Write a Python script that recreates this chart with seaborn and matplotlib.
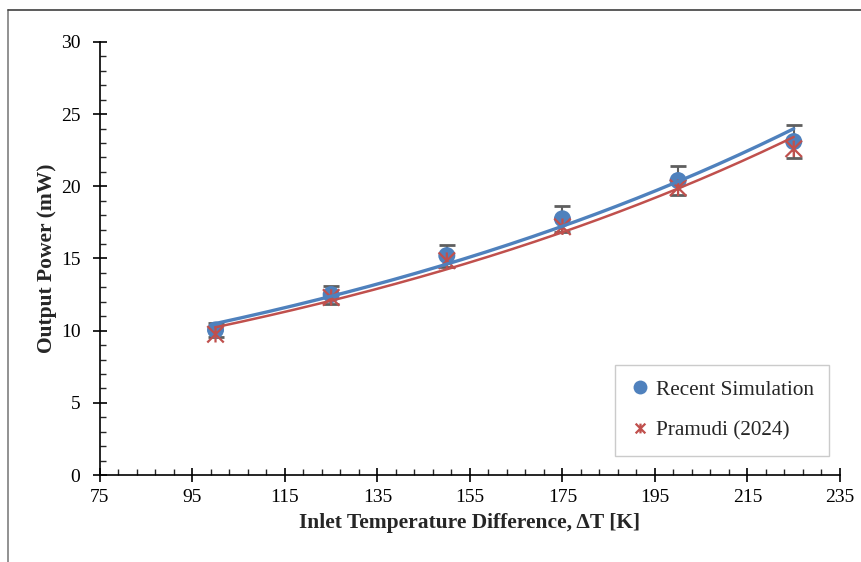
import numpy as np
import pandas as pd
import matplotlib
matplotlib.use("Agg")
import matplotlib.pyplot as plt
import seaborn as sns
from matplotlib.path import Path
from matplotlib.lines import Line2D

# data
delta_t = [100, 125, 150, 175, 200, 225]
recent_sim = [10.05, 12.5, 15.2, 17.75, 20.4, 23.1]
pramudi = [9.75, 12.3, 14.85, 17.2, 19.9, 22.6]
err_pct = 0.05

x_ticks = [75, 95, 115, 135, 155, 175, 195, 215, 235]
y_ticks = [0, 5, 10, 15, 20, 25, 30]

blue = "#4F81BD"
red = "#C0504D"
grey = "#5f5f5f"

sns.set_style("ticks")
plt.rcParams["font.family"] = ["Liberation Serif", "DejaVu Serif"]

df = pd.DataFrame({"dt": delta_t, "recent": recent_sim, "pramudi": pramudi})

# excel style exponential trendlines
xs = np.linspace(min(delta_t), max(delta_t), 200)
b1, a1 = np.polyfit(df["dt"], np.log(df["recent"]), 1)
b2, a2 = np.polyfit(df["dt"], np.log(df["pramudi"]), 1)
trend = pd.DataFrame({"x": xs, "recent": np.exp(a1 + b1 * xs), "pramudi": np.exp(a2 + b2 * xs)})

# star marker: x with a vertical stroke
star = Path([(-1, -1), (1, 1), (-1, 1), (1, -1), (0, -1), (0, 1)],
            [Path.MOVETO, Path.LINETO, Path.MOVETO, Path.LINETO, Path.MOVETO, Path.LINETO])

fig = plt.figure(figsize=(8.61, 5.62), dpi=100)
ax = fig.add_axes([0.116, 0.1548, 0.8596, 0.7705])

ax.errorbar(df["dt"], df["recent"], yerr=df["recent"] * err_pct, fmt="none",
            ecolor=grey, elinewidth=1.5, capsize=6, capthick=2, zorder=2)
sns.scatterplot(x="dt", y="recent", data=df, ax=ax, color=blue, s=150,
                edgecolor="none", zorder=3, legend=False)
sns.scatterplot(x="dt", y="pramudi", data=df, ax=ax, marker=star, s=140,
                facecolor="none", edgecolor=red, linewidth=1.6, zorder=4, legend=False)
sns.lineplot(x="x", y="recent", data=trend, ax=ax, color=blue, linewidth=2.4, zorder=5)
sns.lineplot(x="x", y="pramudi", data=trend, ax=ax, color=red, linewidth=1.8, zorder=6)

ax.set_xlim(75, 235)
ax.set_ylim(0, 30)
ax.set_xticks(x_ticks)
ax.set_yticks(y_ticks)
ax.set_xticks(np.arange(75, 236, 4), minor=True)
ax.set_yticks(np.arange(0, 31, 1), minor=True)
ax.tick_params(which="major", direction="inout", length=10, width=1.2, labelsize=14, colors="black")
ax.tick_params(axis="x", which="major", pad=5)
ax.tick_params(axis="y", which="major", pad=9)
ax.tick_params(which="minor", direction="in", length=4, width=1.0)
sns.despine(ax=ax)
for s in ["left", "bottom"]:
    ax.spines[s].set_linewidth(1.2)
    ax.spines[s].set_color("black")

ax.set_xlabel("Inlet Temperature Difference, ΔT [K]", fontsize=15.5, fontweight="bold", labelpad=5)
ax.set_ylabel("Output Power (mW)", fontsize=15.5, fontweight="bold", labelpad=3)

handles = [
    Line2D([], [], linestyle="none", marker="o", markersize=10, color=blue, markeredgecolor="none"),
    Line2D([], [], linestyle="none", marker=star, markersize=7, color=red, markeredgewidth=1.6),
]
leg = ax.legend(handles, ["Recent Simulation", "Pramudi (2024)"], loc="upper left",
                bbox_to_anchor=(0.696, 0.254), borderaxespad=0, fontsize=15.3, frameon=True,
                fancybox=False, edgecolor="#bfbfbf", handletextpad=0.25, labelspacing=1.0,
                borderpad=0.7, handlelength=1.0)
leg.get_frame().set_linewidth(1.0)

# chart area border (left and top only visible)
fig.add_artist(Line2D([8 / 861, 8 / 861], [0, 1 - 10 / 562], color="#7f7f7f", linewidth=1.2))
fig.add_artist(Line2D([8 / 861, 1], [1 - 10 / 562, 1 - 10 / 562], color="#404040", linewidth=1.2))

fig.savefig("out.png", dpi=100)
